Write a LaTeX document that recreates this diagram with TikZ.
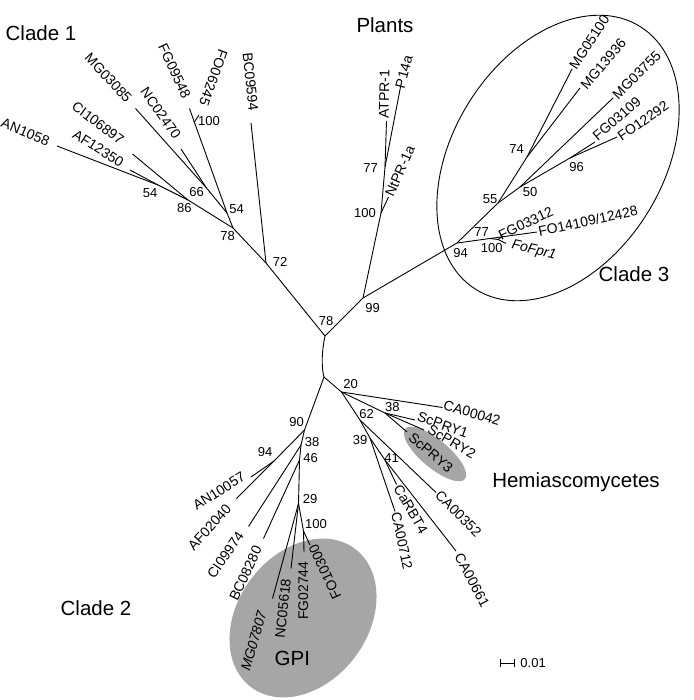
\documentclass[tikz,border=0pt]{standalone}
\usepackage{fontspec}
\setmainfont{Liberation Sans}
\begin{document}
\begin{tikzpicture}[x=1pt,y=-1pt,line width=0.9pt,
    leaf/.style={font=\fontsize{14}{16}\selectfont,inner sep=0pt},
    boot/.style={font=\fontsize{13}{15}\selectfont,inner sep=0pt},
    clade/.style={font=\fontsize{20.5}{24}\selectfont,inner sep=0pt}]
\useasboundingbox (0,0) rectangle (693,700);

% shaded groups
\fill[gray!70,rotate around={53:(303,618)}] (303,618) ellipse [x radius=86.5pt,y radius=65pt];
\fill[gray!70,rotate around={-40:(435,454)}] (435,454) ellipse [x radius=39pt,y radius=14pt];
\draw[rotate around={58:(558,158)}] (558,158) ellipse [x radius=155pt,y radius=105pt];

% backbone
\coordinate (U) at (325,336);
\coordinate (L) at (324,377);
\draw (U) .. controls (322,350) and (321,366) .. (L);

% clade 1
\coordinate (n72) at (266,263);
\coordinate (n78a) at (233,228);
\coordinate (n86) at (188,200);
\coordinate (n54a) at (158,185);
\coordinate (n54b) at (227,213);
\coordinate (n66) at (206.5,188);
\coordinate (n100a) at (194.3,122);
\coordinate (tAN1058) at (57,146);
\coordinate (tAF12350) at (130,170);
\coordinate (tCI106897) at (132.5,154);
\coordinate (tMG03085) at (135.5,108.5);
\coordinate (tNC02470) at (181,149);
\coordinate (tFG09548) at (189.5,108.5);
\coordinate (tFO06245) at (199,115);
\coordinate (tBC09594) at (251,123);
\draw (U) -- (n72) -- (n78a) -- (n86) -- (n54a) -- (tAN1058);
\draw (n54a) -- (tAF12350);
\draw (n86) -- (tCI106897);
\draw (n78a) -- (n54b) -- (n66) -- (tMG03085);
\draw (n66) -- (tNC02470);
\draw (n54b) -- (n100a) -- (tFG09548);
\draw (n100a) -- (tFO06245);
\draw (n72) -- (tBC09594);

% plants
\coordinate (n99) at (363,298);
\coordinate (n100p) at (381,213);
\coordinate (n77p) at (385,167);
\coordinate (tATPR) at (386.5,121);
\coordinate (tP14a) at (400.5,87);
\coordinate (tNtPR) at (388.5,197);
\draw (U) -- (n99) -- (n100p) -- (n77p) -- (tATPR);
\draw (n77p) -- (tP14a);
\draw (n100p) -- (tNtPR);

% clade 3
\coordinate (n94) at (457,243);
\coordinate (n77c) at (490,238.5);
\coordinate (n100c) at (498,239.5);
\coordinate (tFG03312) at (503,236);
\coordinate (tFoFpr1) at (506,243.5);
\coordinate (tFO14109) at (537,232);
\coordinate (n55) at (498,203);
\coordinate (n74) at (527,157);
\coordinate (tMG05100) at (572,69);
\coordinate (tMG13936) at (580,88);
\coordinate (n50) at (520,187);
\coordinate (tMG03755) at (613,98);
\coordinate (n96) at (570,158);
\coordinate (tFG03109) at (595,142);
\coordinate (tFO12292) at (617,137);
\draw (n99) -- (n94) -- (n77c) -- (tFO14109);
\draw (n77c) -- (n100c) -- (tFG03312);
\draw (n100c) -- (tFoFpr1);
\draw (n94) -- (n55) -- (n74) -- (tMG05100);
\draw (n74) -- (tMG13936);
\draw (n55) -- (n50) -- (tMG03755);
\draw (n50) -- (n96) -- (tFG03109);
\draw (n96) -- (tFO12292);

% hemiascomycetes
\coordinate (n20) at (341.5,392);
\coordinate (tCA00042) at (442.5,407.5);
\coordinate (n38h) at (385,413);
\coordinate (tScPRY1) at (415,420);
\coordinate (tScPRY2) at (424,430);
\coordinate (tScPRY3) at (407,432);
\coordinate (n62) at (360,420);
\coordinate (tCA00352) at (436,492.5);
\coordinate (n39) at (370,438);
\coordinate (tCA00712) at (395,511.5);
\coordinate (n41) at (385,460);
\coordinate (tCaRBT4) at (396.5,484.5);
\coordinate (tCA00661) at (456,551);
\draw (L) -- (n20) -- (tCA00042);
\draw (n20) -- (n38h) -- (tScPRY1);
\draw (n38h) -- (tScPRY2);
\draw (n38h) -- (tScPRY3);
\draw (n20) -- (n62) -- (tCA00352);
\draw (n62) -- (n39) -- (tCA00712);
\draw (n39) -- (n41) -- (tCaRBT4);
\draw (n41) -- (tCA00661);

% clade 2
\coordinate (n90) at (304.5,430);
\coordinate (n94c) at (274,461);
\coordinate (tAN10057) at (251,477);
\coordinate (tAF02040) at (236.5,498.5);
\coordinate (n38c) at (301,445);
\coordinate (tCI09974) at (248.5,526.5);
\coordinate (n46) at (299.5,460);
\coordinate (tBC08280) at (263.5,538.5);
\coordinate (n29) at (298.5,503.5);
\coordinate (tMG07807) at (272.5,598.5);
\coordinate (tNC05618) at (291,568.5);
\coordinate (n100g) at (303.5,531);
\coordinate (tFG02744) at (304,552);
\coordinate (tFO10300) at (310,545);
\draw (L) -- (n90) -- (n94c) -- (tAF02040);
\draw (n94c) -- (tAN10057);
\draw (n90) -- (n38c) -- (tCI09974);
\draw (n38c) -- (n46) -- (tBC08280);
\draw (n46) -- (n29) -- (tMG07807);
\draw (n29) -- (tNC05618);
\draw (n29) -- (n100g) -- (tFG02744);
\draw (n100g) -- (tFO10300);

% leaf labels
\node[leaf,rotate=-22] (lAN1058) at (25.5,132) {AN1058};
\node[leaf,rotate=-37] (lCI106897) at (98,123) {CI106897};
\node[leaf,rotate=-32] (lAF12350) at (98.3,148.3) {AF12350};
\node[leaf,rotate=-47] (lMG03085) at (108.3,77.8) {MG03085};
\node[leaf,rotate=-55] (lNC02470) at (160.8,113.3) {NC02470};
\node[leaf,rotate=-65] (lFG09548) at (174.5,70.8) {FG09548};
\node[leaf,rotate=-110] (lFO06245) at (213.5,77.8) {FO06245};
\node[leaf,rotate=-84] (lBC09594) at (250.5,81.7) {BC09594};
\node[leaf,rotate=89] (lATPR) at (384.2,94.2) {ATPR-1};
\node[leaf,rotate=75] (lP14a) at (404,72) {P14a};
\node[leaf,rotate=66] (lNtPR) at (400,171) {NtPR-1a};
\node[leaf,rotate=57] (lMG05100) at (589.4,42.2) {MG05100};
\node[leaf,rotate=50] (lMG13936) at (603.3,64) {MG13936};
\node[leaf,rotate=45] (lMG03755) at (636.7,75) {MG03755};
\node[leaf,rotate=41] (lFG03109) at (616.7,118.8) {FG03109};
\node[leaf,rotate=35] (lFO12292) at (643,121) {FO12292};
\node[leaf,rotate=25] (lFG03312) at (525.8,223.3) {FG03312};
\node[leaf,rotate=12] (lFO14109) at (588,221) {FO14109/12428};
\node[leaf,rotate=-13] (lFoFpr1) at (533.8,250.5) {\itshape FoFpr1};
\node[leaf,rotate=-16] (lCA00042) at (472,413) {CA00042};
\node[leaf,rotate=-20] (lScPRY1) at (442.8,424.7) {ScPRY1};
\node[leaf,rotate=-30] (lScPRY2) at (451.8,441.7) {ScPRY2};
\node[leaf,rotate=-40] (lScPRY3) at (430.8,452.5) {ScPRY3};
\node[leaf,rotate=-45] (lCA00352) at (458.3,513.7) {CA00352};
\node[leaf,rotate=-60] (lCaRBT4) at (410.8,509.2) {CaRBT4};
\node[leaf,rotate=-78] (lCA00712) at (402,541) {CA00712};
\node[leaf,rotate=-62] (lCA00661) at (472,580) {CA00661};
\node[leaf,rotate=32] (lAN10057) at (219,491) {AN10057};
\node[leaf,rotate=48] (lAF02040) at (209.5,527.5) {AF02040};
\node[leaf,rotate=55] (lCI09974) at (225.5,555) {CI09974};
\node[leaf,rotate=65] (lBC08280) at (245.5,573.3) {BC08280};
\node[leaf,rotate=74] (lMG07807) at (253.7,640.8) {\itshape MG07807};
\node[leaf,rotate=84] (lNC05618) at (283,608.3) {NC05618};
\node[leaf,rotate=90] (lFG02744) at (303.3,590.8) {FG02744};
\node[leaf,rotate=115] (lFO10300) at (325,571.7) {FO10300};

% bootstrap values
\node[boot] (b54a) at (150,192.7) {54};
\node[boot] (b86) at (184.3,208.5) {86};
\node[boot] (b66) at (196.7,191.7) {66};
\node[boot] (b54b) at (236.7,209.2) {54};
\node[boot] (b78a) at (227.7,236) {78};
\node[boot] (b100a) at (209,121) {100};
\node[boot] (b72) at (280,261.7) {72};
\node[boot] (b78) at (326,320.7) {78};
\node[boot] (b99) at (372.7,308.3) {99};
\node[boot] (b77p) at (370.7,168.3) {77};
\node[boot] (b100p) at (365,213.3) {100};
\node[boot] (b94) at (460.7,253.3) {94};
\node[boot] (b77c) at (481.7,231.7) {77};
\node[boot] (b100c) at (491.7,248.3) {100};
\node[boot] (b55) at (490,199.5) {55};
\node[boot] (b50) at (530,192) {50};
\node[boot] (b74) at (516.7,149.3) {74};
\node[boot] (b96) at (576.7,166.7) {96};
\node[boot] (b20) at (350.5,384.3) {20};
\node[boot] (b38h) at (392.3,407.3) {38};
\node[boot] (b62) at (366.7,414.3) {62};
\node[boot] (b39) at (360,440) {39};
\node[boot] (b41) at (391.7,458.3) {41};
\node[boot] (b90) at (296.7,422.3) {90};
\node[boot] (b94c) at (265,451.7) {94};
\node[boot] (b38c) at (312.2,441.7) {38};
\node[boot] (b46) at (310.5,458.3) {46};
\node[boot] (b29) at (310,499) {29};
\node[boot] (b100g) at (316,524) {100};

% group names
\node[clade] (clade1) at (41,33) {Clade 1};
\node[clade] (plants) at (385,25) {Plants};
\node[clade] (clade3) at (634,274) {Clade 3};
\node[clade] (hemi) at (576,482) {Hemiascomycetes};
\node[clade] (clade2) at (96,608) {Clade 2};
\node[clade] (gpi) at (292.3,658.3) {GPI};

% scale bar
\coordinate (sbL) at (500,663);
\coordinate (sbR) at (515,663);
\draw[|-|] (sbL) -- (sbR);
\node[boot,anchor=west] (sblabel) at (520,663) {0.01};
\end{tikzpicture}
\end{document}
